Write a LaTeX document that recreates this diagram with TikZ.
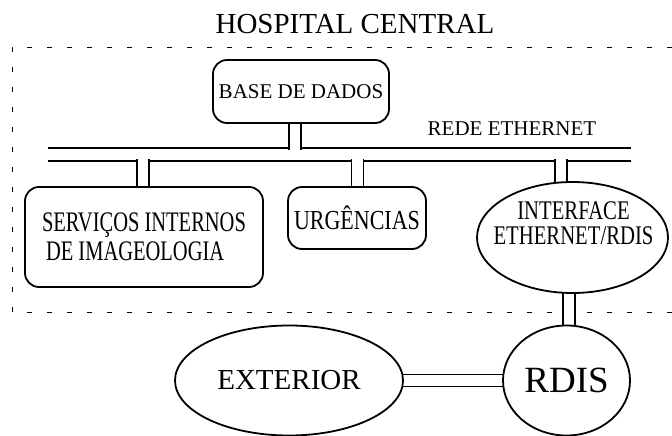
\documentclass[tikz,border=0pt]{standalone}
\usepackage{fontspec}
\setmainfont{Liberation Serif}
\usepackage{graphicx}
\usetikzlibrary{shapes.geometric,backgrounds}
\newcommand{\tallt}[2][1.3]{\scalebox{1}[#1]{#2}}
\begin{document}
\begin{tikzpicture}[x=1pt,y=-1pt,
  lw/.style={line width=1.8pt},
  rbox/.style={draw, lw, fill=white, rounded corners=14pt, inner sep=0pt, font=\fontsize{21}{29}\selectfont},
  ell/.style={draw, lw, fill=white, ellipse, inner sep=0pt},
  pipe/.style={draw, lw, double=white, double distance=10.2pt},
  bus/.style={draw, lw, double=white, double distance=11.2pt},
  frame/.style={draw, line width=0.8pt, dash pattern=on 5pt off 15pt},
  txt/.style={inner sep=0pt, font=\fontsize{21}{25}\selectfont}]
\useasboundingbox (0,0) rectangle (672,436);

\node[txt, font=\fontsize{29}{33}\selectfont] (title) at (355,24) {HOSPITAL CENTRAL};

\node[rbox, minimum width=176pt, minimum height=63pt] (base) at (301,91.5) {BASE DE DADOS};
\node[txt] (rede) at (512,129) {REDE ETHERNET};

\node[rbox, minimum width=238pt, minimum height=100pt, align=left,
      font=\fontsize{20.5}{29}\selectfont] (serv) at (144,237)
  {\tallt[1.38]{SERVIÇOS INTERNOS}\\\hspace*{4pt}\tallt[1.38]{DE IMAGEOLOGIA}};

\node[rbox, minimum width=138pt, minimum height=62pt, font=\fontsize{22}{26}\selectfont] (urg) at (357,218) {\tallt[1.25]{URGÊNCIAS}};

\node[ell, minimum width=191pt, minimum height=111pt] (iface) at (572.5,237.5) {};
\node[txt, align=center, font=\fontsize{20.7}{25}\selectfont] (ifacetxt) at (573.5,223.5)
  {\tallt{INTERFACE}\\\tallt{ETHERNET/RDIS}};

\node[ell, minimum width=228pt, minimum height=110pt, font=\fontsize{29}{33}\selectfont] (ext) at (289,380.5) {EXTERIOR};
\node[ell, minimum width=127pt, minimum height=110pt, font=\fontsize{37}{40}\selectfont] (rdis) at (566.5,380.5) {RDIS};

\coordinate (busL) at (48,154.5);
\coordinate (busR) at (631,154.5);
\coordinate (j1) at (295,149.6);
\coordinate (j2) at (143,159.4);
\coordinate (j3) at (357.5,159.4);
\coordinate (j4) at (561,159.4);
\coordinate (j5) at (569,300);

\begin{scope}[on background layer]
\draw[frame] (672,47) -- (12,47) -- (12,312) -- (672,312);
\draw[bus] (busL) -- (busR);
\draw[pipe] (j1 |- base.center) -- (j1);
\draw[pipe] (j2) -- (j2 |- serv.center);
\draw[pipe] (j3) -- (j3 |- urg.center);
\draw[pipe] (j4) -- (j4 |- iface.center);
\draw[pipe] (j5 |- iface.center) -- (j5 |- rdis.center);
\draw[pipe] (ext.center) -- (rdis.center);
\end{scope}
\end{tikzpicture}
\end{document}
